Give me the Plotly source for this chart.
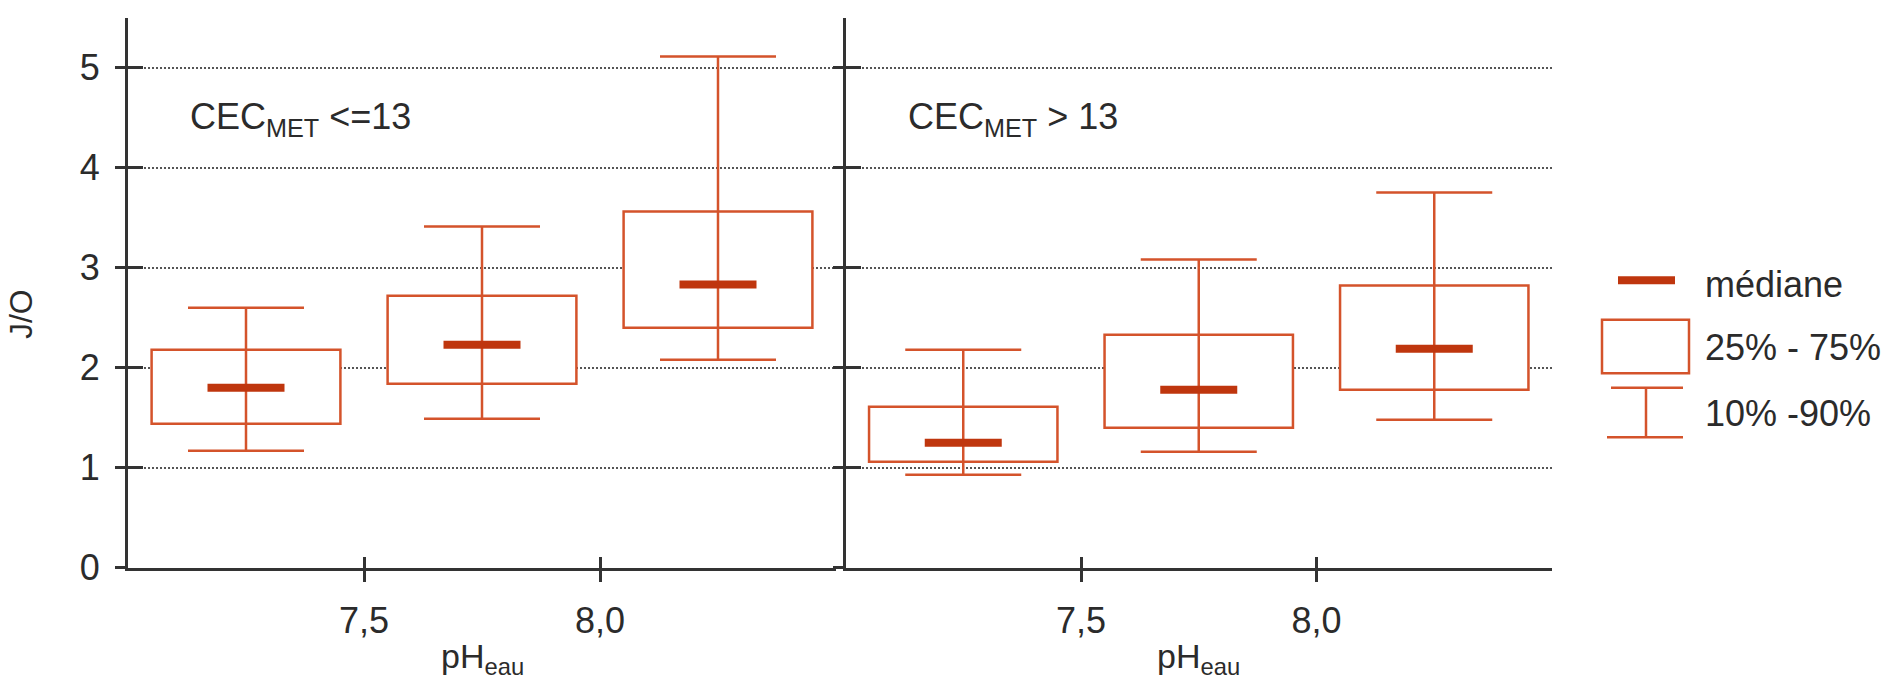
import plotly.graph_objects as go

W, H = 1898, 684

# ---------------- data ----------------
ph_positions = [7.25, 7.75, 8.25]
x_tick_vals = [7.5, 8.0]
x_tick_text = ["7,5", "8,0"]
y_tick_vals = [0, 1, 2, 3, 4, 5]

# CEC_MET <= 13
low_p10 = [1.17, 1.49, 2.08]
low_q1 = [1.44, 1.84, 2.40]
low_median = [1.80, 2.23, 2.83]
low_q3 = [2.18, 2.72, 3.56]
low_p90 = [2.60, 3.41, 5.11]

# CEC_MET > 13
high_p10 = [0.93, 1.16, 1.48]
high_q1 = [1.06, 1.40, 1.78]
high_median = [1.25, 1.78, 2.19]
high_q3 = [1.61, 2.33, 2.82]
high_p90 = [2.18, 3.08, 3.75]

panel_labels = ["CEC<sub>MET</sub> &lt;=13", "CEC<sub>MET</sub> &gt; 13"]
legend_labels = ["médiane", "25% - 75%", "10% -90%"]
x_title = "pH<sub>eau</sub>"
y_title = "J/O"

# ---------------- style ----------------
BOX_COL = "#d4532b"
MED_COL = "#bf360e"
AX_COL = "#333333"
GRID_COL = "#555555"
TXT_COL = "#2b2b2b"
FONT = "Liberation Sans, Arial, sans-serif"
FS = 36


def fx(px):
    return px / W


def fy(py):
    return 1 - py / H


x_dom_left = [fx(128), fx(836)]
x_dom_right = [fx(845.5), fx(1552)]
y_dom = [fy(585.7), fy(18.1)]

fig = go.Figure()

panels = [
    ("x", "y", low_p10, low_q1, low_median, low_q3, low_p90),
    ("x2", "y2", high_p10, high_q1, high_median, high_q3, high_p90),
]

for xa, ya, p10, q1, med, q3, p90 in panels:
    # interquartile box
    fig.add_trace(go.Bar(
        x=ph_positions, y=[b - a for a, b in zip(q1, q3)], base=q1,
        width=0.4, xaxis=xa, yaxis=ya,
        marker=dict(color="white", line=dict(color=BOX_COL, width=2.5)),
        showlegend=False, hoverinfo="skip",
    ))
    # 10-90 whiskers
    fig.add_trace(go.Scatter(
        x=ph_positions, y=med, mode="markers", xaxis=xa, yaxis=ya,
        marker=dict(size=1, color="rgba(0,0,0,0)"),
        error_y=dict(type="data", symmetric=False,
                     array=[b - m for m, b in zip(med, p90)],
                     arrayminus=[m - a for m, a in zip(med, p10)],
                     color=BOX_COL, thickness=2.5, width=58),
        showlegend=False, hoverinfo="skip",
    ))
    # median bar
    fig.add_trace(go.Scatter(
        x=ph_positions, y=med, mode="markers", xaxis=xa, yaxis=ya,
        marker=dict(symbol="line-ew", size=55,
                    line=dict(color=MED_COL, width=8)),
        showlegend=False, hoverinfo="skip",
    ))

# invisible traces for the overlay (inside-tick) axes
for xa, ya in [("x3", "y3"), ("x4", "y4")]:
    fig.add_trace(go.Scatter(x=[None], y=[None], xaxis=xa, yaxis=ya,
                             showlegend=False, hoverinfo="skip"))

common_x = dict(range=[7.0, 8.5], tickvals=x_tick_vals, ticktext=x_tick_text,
                showgrid=False, zeroline=False, tickcolor=AX_COL, tickwidth=3,
                tickfont=dict(size=FS, color=TXT_COL, family=FONT))
common_y = dict(range=[0, 5.5], tickvals=y_tick_vals, zeroline=False,
                tickcolor=AX_COL, tickwidth=3,
                tickfont=dict(size=FS, color=TXT_COL, family=FONT))

fig.update_layout(
    width=W, height=H,
    margin=dict(l=0, r=0, t=0, b=0, pad=0),
    paper_bgcolor="white", plot_bgcolor="white",
    showlegend=False, barmode="overlay",
    xaxis=dict(domain=x_dom_left, anchor="y", showline=True, linecolor=AX_COL,
               linewidth=3, ticks="outside", ticklen=11, ticklabelstandoff=8,
               **common_x),
    xaxis2=dict(domain=x_dom_right, anchor="y2", showline=True, linecolor=AX_COL,
                linewidth=3, ticks="outside", ticklen=11, ticklabelstandoff=8,
                **common_x),
    yaxis=dict(domain=y_dom, anchor="x", showline=True, linecolor=AX_COL,
               linewidth=3, ticks="outside", ticklen=10, ticklabelstandoff=8,
               showgrid=True, gridcolor=GRID_COL, gridwidth=2, griddash="2px,2px",
               **common_y),
    yaxis2=dict(domain=y_dom, anchor="x2", showline=True, linecolor=AX_COL,
                linewidth=3, ticks="outside", ticklen=10, showticklabels=False,
                showgrid=True, gridcolor=GRID_COL, gridwidth=2, griddash="2px,2px",
                **common_y),
    xaxis3=dict(overlaying="x", anchor="y", ticks="inside", ticklen=11,
                showticklabels=False, showline=False, **common_x),
    yaxis3=dict(overlaying="y", anchor="x", ticks="inside", ticklen=15,
                showticklabels=False, showline=False, showgrid=False, **common_y),
    xaxis4=dict(overlaying="x2", anchor="y2", ticks="inside", ticklen=11,
                showticklabels=False, showline=False, **common_x),
    yaxis4=dict(overlaying="y2", anchor="x2", ticks="inside", ticklen=15,
                showticklabels=False, showline=False, showgrid=False, **common_y),
)

annotations = []
# panel labels
for xref, lab in [("x domain", panel_labels[0]), ("x2 domain", panel_labels[1])]:
    annotations.append(dict(text=lab, xref=xref, yref="paper", x=0.085, y=fy(97),
                            xanchor="left", yanchor="top", showarrow=False,
                            font=dict(size=FS, color=TXT_COL, family=FONT)))
# x titles
for xref in ["x domain", "x2 domain"]:
    annotations.append(dict(text=x_title, xref=xref, yref="paper", x=0.5, y=fy(655),
                            xanchor="center", yanchor="top", showarrow=False,
                            font=dict(size=34, color=TXT_COL, family=FONT)))
# y title
annotations.append(dict(text=y_title, xref="paper", yref="paper", x=fx(21), y=fy(324),
                        xanchor="center", yanchor="middle", textangle=-90,
                        showarrow=False, font=dict(size=32, color=TXT_COL, family=FONT)))
# legend texts
for lab, cy in zip(legend_labels, [293, 358, 427]):
    annotations.append(dict(text=lab, xref="paper", yref="paper", x=fx(1703), y=fy(cy),
                            xanchor="left", yanchor="middle", showarrow=False,
                            font=dict(size=FS, color=TXT_COL, family=FONT)))
fig.update_layout(annotations=annotations)

# legend symbols
shapes = [
    dict(type="line", xref="paper", yref="paper", x0=fx(1618), x1=fx(1675),
         y0=fy(289), y1=fy(289), line=dict(color=MED_COL, width=8)),
    dict(type="rect", xref="paper", yref="paper", x0=fx(1602), x1=fx(1689),
         y0=fy(330), y1=fy(385), line=dict(color=BOX_COL, width=2.5),
         fillcolor="white"),
    dict(type="line", xref="paper", yref="paper", x0=fx(1611), x1=fx(1683),
         y0=fy(400), y1=fy(400), line=dict(color=BOX_COL, width=2.5)),
    dict(type="line", xref="paper", yref="paper", x0=fx(1607), x1=fx(1683),
         y0=fy(451), y1=fy(451), line=dict(color=BOX_COL, width=2.5)),
    dict(type="line", xref="paper", yref="paper", x0=fx(1646), x1=fx(1646),
         y0=fy(400), y1=fy(451), line=dict(color=BOX_COL, width=2.5)),
]
fig.update_layout(shapes=shapes)

fig.write_html("out.html", config={"displayModeBar": False},
               post_script="document.body.style.margin='0';document.body.style.overflow='hidden';")
